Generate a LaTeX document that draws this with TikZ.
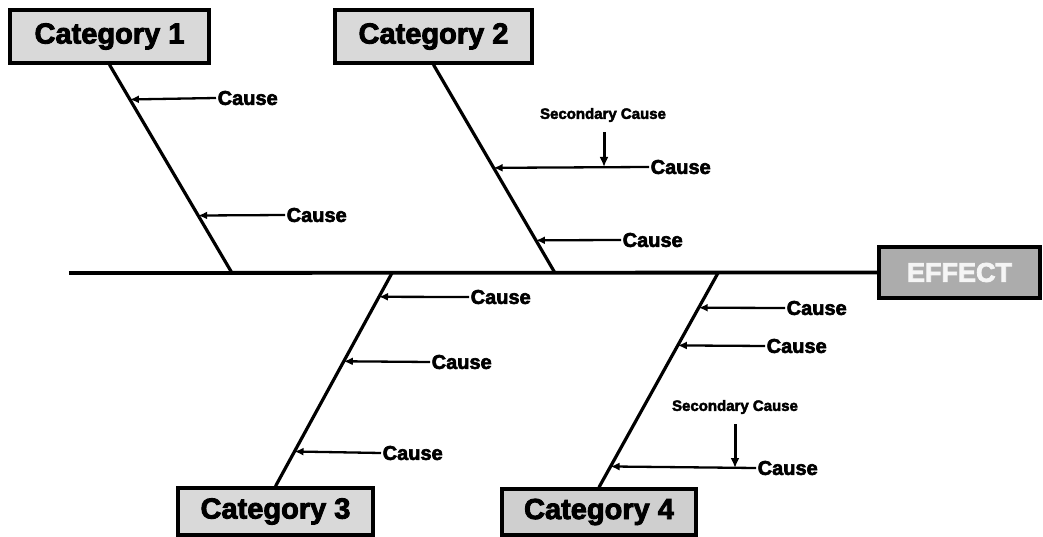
\documentclass[tikz,border=0pt]{standalone}
\usepackage{fontspec}
\setmainfont{Liberation Sans}[BoldFeatures={FakeBold=3}]
\usetikzlibrary{arrows.meta,calc}
\begin{document}
\begin{tikzpicture}[x=1pt,y=-1pt,
  catbox/.style={draw=black, line width=3.5pt, fill=gray!30, inner sep=0pt,
    font=\bfseries\fontsize{29}{29}\selectfont},
  effbox/.style={draw=black, line width=3.5pt, fill=gray!65, text=gray!8, inner sep=0pt,
    font=\bfseries\fontsize{27}{27}\selectfont},
  causetxt/.style={anchor=west, inner sep=1.5pt, font=\bfseries\fontsize{20}{20}\selectfont},
  sectxt/.style={inner sep=1pt, font=\bfseries\fontsize{15}{15}\selectfont},
  spine/.style={line width=3.8pt},
  bone/.style={line width=3.2pt},
  twig/.style={line width=2.3pt, -{Latex[length=9pt,width=8pt]}},
  subtwig/.style={line width=3pt, -{Latex[length=10pt,width=9pt]}},
]
\useasboundingbox (0,0) rectangle (1043,537);
% boxes
\node[catbox, minimum width=199pt, minimum height=53pt] (cat1) at (109.5,36.5) {Category 1};
\node[catbox, minimum width=197pt, minimum height=53pt] (cat2) at (433.5,36.5) {Category 2};
\node[catbox, minimum width=195pt, minimum height=47pt] (cat3) at (275.5,511.5) {Category 3};
\node[catbox, fill=gray!38, minimum width=194pt, minimum height=46pt] (cat4) at (599,512) {Category 4};
\node[effbox, minimum width=161pt, minimum height=51pt] (effect) at (959.5,272.5) {EFFECT};
% spine
\coordinate (spL) at (69,273);
\coordinate (s1) at (232,273);
\coordinate (s2) at (555,273);
\coordinate (s3) at (392,273);
\coordinate (s4) at (718,273);
\draw[spine] (spL) -- (effect.west);
% bones
\draw[bone] (cat1.south) -- (s1);
\draw[bone] (cat2.south) -- (s2);
\draw[bone] (cat3.north) -- (s3);
\draw[bone] (cat4.north) -- (s4);
% attachment points
\coordinate (a11) at ($(cat1.south)!0.1667!(s1)$);
\coordinate (a12) at ($(cat1.south)!0.724!(s1)$);
\coordinate (a21) at ($(cat2.south)!0.495!(s2)$);
\coordinate (a22) at ($(cat2.south)!0.843!(s2)$);
\coordinate (a31) at ($(s3)!0.1116!(cat3.north)$);
\coordinate (a32) at ($(s3)!0.414!(cat3.north)$);
\coordinate (a33) at ($(s3)!0.837!(cat3.north)$);
\coordinate (a41) at ($(s4)!0.162!(cat4.north)$);
\coordinate (a42) at ($(s4)!0.338!(cat4.north)$);
\coordinate (a43) at ($(s4)!0.903!(cat4.north)$);
% cause labels
\node[causetxt] (c11) at (216,98) {Cause};
\node[causetxt] (c12) at (285,215) {Cause};
\node[causetxt] (c21) at (649,167) {Cause};
\node[causetxt] (c22) at (621,240) {Cause};
\node[causetxt] (c31) at (469,297) {Cause};
\node[causetxt] (c32) at (430,362) {Cause};
\node[causetxt] (c33) at (381,453) {Cause};
\node[causetxt] (c41) at (785,308) {Cause};
\node[causetxt] (c42) at (765,346) {Cause};
\node[causetxt] (c43) at (756,468) {Cause};
% cause arrows
\draw[twig] (c11.west) -- (a11);
\draw[twig] (c12.west) -- (a12);
\draw[twig] (c21.west) -- (a21);
\draw[twig] (c22.west) -- (a22);
\draw[twig] (c31.west) -- (a31);
\draw[twig] (c32.west) -- (a32);
\draw[twig] (c33.west) -- (a33);
\draw[twig] (c41.west) -- (a41);
\draw[twig] (c42.west) -- (a42);
\draw[twig] (c43.west) -- (a43);
% secondary causes
\node[sectxt] (sc2) at (603,115) {Secondary Cause};
\node[sectxt] (sc4) at (735,407) {Secondary Cause};
\coordinate (t2) at (604,167);
\coordinate (t4) at (735,468);
\draw[subtwig, shorten <=9pt] (sc2.south -| t2) -- (t2);
\draw[subtwig, shorten <=9pt] (sc4.south -| t4) -- (t4);
\end{tikzpicture}
\end{document}
